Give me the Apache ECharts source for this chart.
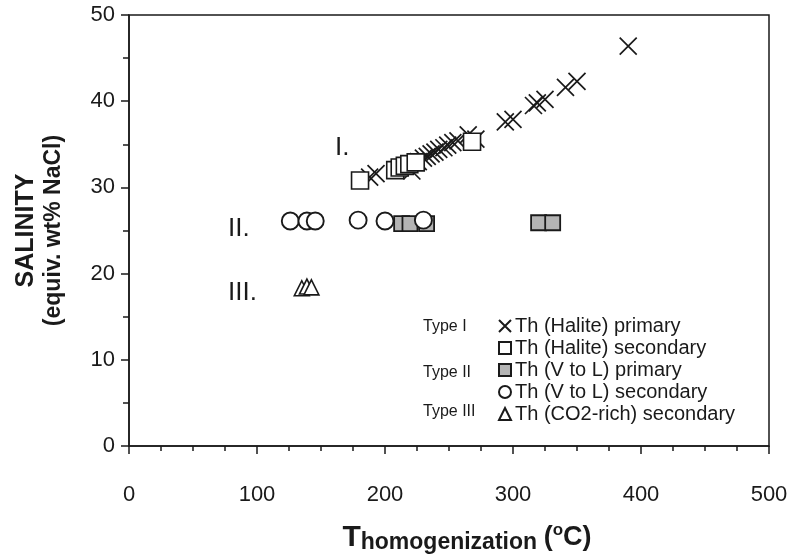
<!DOCTYPE html>
<html>
<head>
<meta charset="utf-8">
<script src="https://cdn.jsdelivr.net/npm/echarts@6/dist/echarts.min.js"></script>
<style>
  html, body { margin: 0; padding: 0; background: #fff; }
  #chart { width: 789px; height: 556px; }
</style>
</head>
<body>
<div id="chart"></div>
<script>
// Axis ranges and tick spacing
const xRange = [0, 500];
const xStep = 100;
const yRange = [0, 50];
const yStep = 10;

// Series names (legend order)
const seriesNames = [
  'Th (Halite) primary',
  'Th (Halite) secondary',
  'Th (V to L) primary',
  'Th (V to L) secondary',
  'Th (CO2-rich) secondary'
];

// [Th (°C), salinity (wt% NaCl eq.)]
const haliteThPrimary = [
  [188, 31.2], [193, 31.6], [221, 31.9], [226, 33.0], [230, 33.4], [233, 33.6],
  [236, 33.9], [239, 34.1], [242, 34.4], [246, 34.6], [249, 34.9], [253, 35.2],
  [257, 35.4], [265, 36.1], [271, 35.6], [294, 37.6], [300, 37.9], [316, 39.5],
  [319, 39.8], [325, 40.2], [341, 41.6], [350, 42.3], [390, 46.4]
];
const haliteThSecondary = [
  [180.5, 30.8], [208, 32.0], [211.5, 32.3], [215.5, 32.5], [219, 32.7], [224, 32.9], [268, 35.3]
];
const vlThPrimary = [
  [213, 25.8], [219.5, 25.8], [232.5, 25.8], [320, 25.9], [331, 25.9]
];
const vlThSecondary = [
  [126, 26.1], [139, 26.1], [145.5, 26.1], [179, 26.2], [200, 26.1], [230, 26.2]
];
const co2ThSecondary = [
  [135, 18.3], [139, 18.5], [142.5, 18.4]
];

// Fluid inclusion group labels and legend group captions
const groupLabels = ['I.', 'II.', 'III.'];
const typeLabels = ['Type I', 'Type II', 'Type III'];

const FONT = '"Liberation Sans", Arial, Helvetica, sans-serif';
const INK = '#1a1a1a';
const CROSS = 'path://M0,0L10,10M10,0L0,10';

const chart = echarts.init(document.getElementById('chart'), null, { renderer: 'canvas' });

function scatter(name, data, symbol, size, fill, z, stroke) {
  return {
    name: name,
    type: 'scatter',
    data: data,
    symbol: symbol,
    symbolSize: size,
    z: z,
    itemStyle: { color: fill, borderColor: INK, borderWidth: stroke, opacity: 1 },
    emphasis: { disabled: true }
  };
}

chart.setOption({
  animation: false,
  backgroundColor: '#fff',
  grid: {
    left: 129, right: 20, top: 15, bottom: 110,
    containLabel: false,
    outerBoundsMode: 'none',
    show: true, borderColor: INK, borderWidth: 1.5
  },
  xAxis: {
    type: 'value',
    min: xRange[0], max: xRange[1], interval: xStep,
    name: '{t|T}{s|homogenization}  {p|(}{o|o}{p|C)}',
    nameLocation: 'middle',
    nameGap: 76,
    nameTextStyle: {
      fontFamily: FONT, color: INK, fontWeight: 'bold',
      padding: [0, 0, 0, 36],
      rich: {
        t: { fontSize: 30, fontWeight: 'bold', fontFamily: FONT, color: INK, lineHeight: 32 },
        p: { fontSize: 27, fontWeight: 'bold', fontFamily: FONT, color: INK, lineHeight: 32 },
        s: { fontSize: 23, fontWeight: 'bold', fontFamily: FONT, color: INK, lineHeight: 23, verticalAlign: 'bottom' },
        o: { fontSize: 17, fontWeight: 'bold', fontFamily: FONT, color: INK, lineHeight: 17, verticalAlign: 'top' }
      }
    },
    axisLine: { show: true, lineStyle: { color: INK, width: 1.5 } },
    axisTick: { show: true, inside: false, length: 8, lineStyle: { color: INK, width: 1.5 } },
    minorTick: { show: true, splitNumber: 4, length: 5, lineStyle: { color: INK, width: 1.5 } },
    splitLine: { show: false },
    axisLabel: { margin: 38, fontSize: 22, fontFamily: FONT, color: INK }
  },
  yAxis: {
    type: 'value',
    min: yRange[0], max: yRange[1], interval: yStep,
    name: '{a|SALINITY}\n{b|(equiv. wt% NaCl)}',
    nameLocation: 'middle',
    nameRotate: 90,
    nameGap: 61,
    nameTextStyle: {
      fontFamily: FONT, color: INK, fontWeight: 'bold', align: 'center',
      rich: {
        a: { fontSize: 25, fontWeight: 'bold', fontFamily: FONT, color: INK, lineHeight: 28 },
        b: { fontSize: 23, fontWeight: 'bold', fontFamily: FONT, color: INK, lineHeight: 28 }
      }
    },
    axisLine: { show: true, lineStyle: { color: INK, width: 1.5 } },
    axisTick: { show: true, inside: false, length: 8, lineStyle: { color: INK, width: 1.5 } },
    minorTick: { show: true, splitNumber: 2, length: 6, lineStyle: { color: INK, width: 1.5 } },
    splitLine: { show: false },
    axisLabel: { margin: 14, fontSize: 22, fontFamily: FONT, color: INK }
  },
  legend: {
    orient: 'vertical',
    left: 493,
    top: 311,
    itemWidth: 12,
    itemHeight: 12,
    itemGap: 2,
    selectedMode: false,
    textStyle: { fontSize: 20, fontFamily: FONT, color: INK, padding: [0, 0, 0, -1] },
    data: seriesNames
  },
  series: [
    scatter(seriesNames[0], haliteThPrimary, CROSS, 17, INK, 2, 1.7),
    scatter(seriesNames[1], haliteThSecondary, 'rect', 17, '#ffffff', 3, 1.6),
    scatter(seriesNames[2], vlThPrimary, 'rect', 15, '#b4b4b4', 4, 1.8),
    scatter(seriesNames[3], vlThSecondary, 'circle', 17, '#ffffff', 5, 1.9),
    scatter(seriesNames[4], co2ThSecondary, 'triangle', 15, '#ffffff', 6, 1.6)
  ],
  graphic: [
    { type: 'text', left: 335, top: 135, style: { text: groupLabels[0], font: '26px ' + FONT, fill: INK } },
    { type: 'text', left: 228, top: 216, style: { text: groupLabels[1], font: '26px ' + FONT, fill: INK } },
    { type: 'text', left: 228, top: 280, style: { text: groupLabels[2], font: '26px ' + FONT, fill: INK } },
    { type: 'text', left: 423, top: 319, style: { text: typeLabels[0], font: '16px ' + FONT, fill: INK } },
    { type: 'text', left: 423, top: 365, style: { text: typeLabels[1], font: '16px ' + FONT, fill: INK } },
    { type: 'text', left: 423, top: 404, style: { text: typeLabels[2], font: '16px ' + FONT, fill: INK } }
  ]
});
</script>
</body>
</html>
